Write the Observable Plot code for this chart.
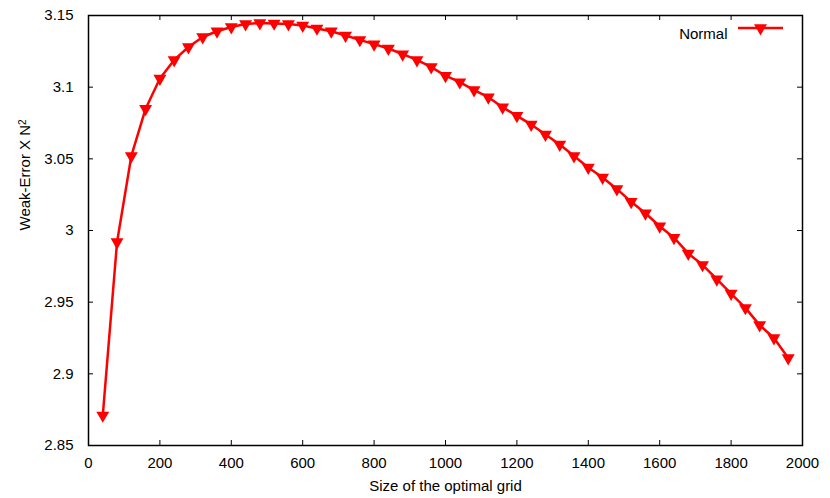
<!DOCTYPE html>
<html><head><meta charset="utf-8">
<script src="https://cdn.jsdelivr.net/npm/d3@7"></script>
<script src="https://cdn.jsdelivr.net/npm/@observablehq/plot@0.6"></script>
<style>
body{margin:0;background:#fff}
#chart svg{font-family:"Liberation Sans",Arial,Helvetica,sans-serif}
</style>
</head><body><div id="chart"></div>
<script>
// ---- data ----
const gridSize = [40,80,120,160,200,240,280,320,360,400,440,480,520,560,600,640,680,720,760,800,
  840,880,920,960,1000,1040,1080,1120,1160,1200,1240,1280,1320,1360,1400,1440,1480,1520,1560,1600,
  1640,1680,1720,1760,1800,1840,1880,1920,1960];
const weakError = [2.871,2.992,3.052,3.085,3.106,3.119,3.128,3.135,3.139,3.142,3.144,3.1447,3.1445,3.144,3.143,3.141,3.139,3.136,3.133,3.130,
  3.127,3.123,3.119,3.114,3.108,3.1035,3.098,3.093,3.086,3.080,3.074,3.067,3.060,3.052,3.044,3.037,3.029,3.020,3.012,3.003,
  2.995,2.984,2.976,2.966,2.956,2.946,2.934,2.925,2.911];
const xTicks = [0,200,400,600,800,1000,1200,1400,1600,1800,2000];
const yTicks = [2.85,2.9,2.95,3,3.05,3.1,3.15];
const yTickLabels = ["2.85","2.9","2.95","3","3.05","3.1","3.15"];
const seriesName = "Normal";
const xLabel = "Size of the optimal grid";
const yLabel = "Weak-Error X N";
const yLabelSup = "2";

// ---- layout ----
const W = 830, H = 498, mL = 88, mR = 28, mT = 15, mB = 53;
const fw = W - mL - mR, fh = H - mT - mB;
const tk = 5;
const red = "#ff0000";
const mr = 4.8;
const data = gridSize.map((x, i) => ({x, y: weakError[i]}));

const triDown = {
  draw(ctx, size) {
    const y = Math.sqrt(size / (Math.sqrt(3) * 3));
    ctx.moveTo(0, 2 * y);
    ctx.lineTo(-Math.sqrt(3) * y, -y);
    ctx.lineTo(Math.sqrt(3) * y, -y);
    ctx.closePath();
  }
};

const plot = Plot.plot({
  width: W, height: H,
  marginLeft: mL, marginRight: mR, marginTop: mT, marginBottom: mB,
  style: {fontFamily: '"Liberation Sans",Arial,Helvetica,sans-serif', fontSize: "15px", color: "#000", background: "#fff"},
  x: {domain: [0, 2000]},
  y: {domain: [2.85, 3.15]},
  marks: [
    Plot.axisX(xTicks, {tickSize: 0, tickPadding: 12, label: null, tickFormat: d => String(d)}),
    Plot.axisY(yTicks, {tickSize: 0, tickPadding: 15, label: null, tickFormat: d => yTickLabels[yTicks.indexOf(d)]}),
    Plot.tickX(xTicks, {x: d => d, insetTop: fh - tk, stroke: "#000", strokeWidth: 1}),
    Plot.tickX(xTicks, {x: d => d, insetBottom: fh - tk, stroke: "#000", strokeWidth: 1}),
    Plot.tickY(yTicks, {y: d => d, insetRight: fw - tk, stroke: "#000", strokeWidth: 1}),
    Plot.tickY(yTicks, {y: d => d, insetLeft: fw - tk, stroke: "#000", strokeWidth: 1}),
    Plot.frame({stroke: "#000", strokeWidth: 1.5}),
    Plot.line(data, {x: "x", y: "y", stroke: red, strokeWidth: 2.5}),
    Plot.dot(data, {x: "x", y: "y", symbol: triDown, r: mr, fill: red, stroke: "none"}),
    Plot.text([xLabel], {frameAnchor: "bottom", dy: 45, text: d => d, fontSize: 15}),
    Plot.text([yLabel], {frameAnchor: "left", dx: -63, rotate: -90, text: d => d, fontSize: 15, className: "ylab"}),
    Plot.text([seriesName], {frameAnchor: "top-right", dx: -75, dy: 13, textAnchor: "end", text: d => d, fontSize: 15})
  ]
});

document.getElementById("chart").appendChild(plot);

// superscript on y label
const svg = d3.select(plot);
svg.select(".ylab text").append("tspan").attr("dy", "-0.45em").attr("font-size", "10px").text(yLabelSup);

// legend sample (line + marker)
const lx1 = W - mR - 64, lx2 = W - mR - 19, ly = mT + 13;
const lg = svg.append("g");
lg.append("line").attr("x1", lx1).attr("x2", lx2).attr("y1", ly).attr("y2", ly)
  .attr("stroke", red).attr("stroke-width", 2.5);
lg.append("path").attr("transform", `translate(${(lx1 + lx2) / 2},${ly})`)
  .attr("d", d3.symbol(triDown, mr * mr * Math.PI)()).attr("fill", red);
</script>
</body></html>
